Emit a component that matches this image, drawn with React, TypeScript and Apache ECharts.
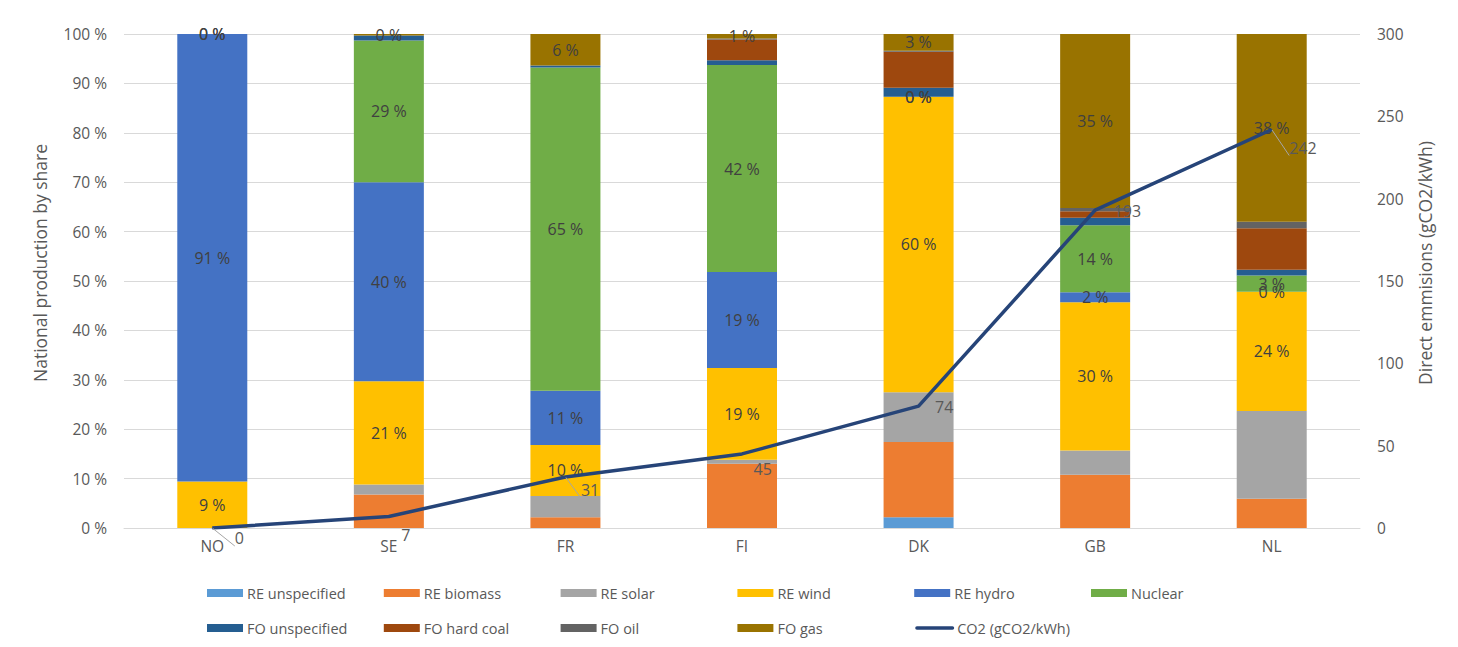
import React, { useEffect, useRef } from "react";
import * as echarts from "echarts";

const countries = ["NO", "SE", "FR", "FI", "DK", "GB", "NL"];

const reUnspecified = [0, 0, 0, 0, 2.2, 0, 0];
const reBiomass = [0, 6.8, 2.2, 13.0, 15.2, 10.8, 5.9];
const reSolar = [0, 2.0, 4.3, 0.8, 10.1, 4.9, 17.8];
const reWind = [9.4, 20.9, 10.3, 18.6, 59.8, 30.0, 24.1];
const reHydro = [90.6, 40.3, 11.0, 19.4, 0, 2.0, 0];
const nuclear = [0, 28.7, 65.4, 41.9, 0, 13.6, 3.3];
const foUnspecified = [0, 1.0, 0.4, 1.0, 1.8, 1.5, 1.2];
const foHardCoal = [0, 0, 0, 4.2, 7.3, 1.3, 8.4];
const foOil = [0, 0, 0, 0.2, 0.2, 0.7, 1.3];
const foGas = [0, 0.3, 6.4, 0.9, 3.4, 35.2, 38.0];

const co2 = [0, 7, 31, 45, 74, 193, 242];

const shareTicks = { min: 0, max: 100, interval: 10 };
const co2Ticks = { min: 0, max: 300, interval: 50 };

// styling (kept apart from data)
const barSeries = [
  { name: "RE unspecified", data: reUnspecified, color: "#5B9BD5", labeled: false },
  { name: "RE biomass", data: reBiomass, color: "#ED7D31", labeled: false },
  { name: "RE solar", data: reSolar, color: "#A5A5A5", labeled: false },
  { name: "RE wind", data: reWind, color: "#FFC000", labeled: true },
  { name: "RE hydro", data: reHydro, color: "#4472C4", labeled: true },
  { name: "Nuclear", data: nuclear, color: "#70AD47", labeled: true },
  { name: "FO unspecified", data: foUnspecified, color: "#255E91", labeled: false },
  { name: "FO hard coal", data: foHardCoal, color: "#9E480E", labeled: false },
  { name: "FO oil", data: foOil, color: "#636363", labeled: false },
  { name: "FO gas", data: foGas, color: "#997300", labeled: true },
];
const co2Name = "CO2 (gCO2/kWh)";
const co2Color = "#264478";
const co2LabelOffsets = [
  [17, 10],
  [7, 19],
  [10, 13],
  [6, 15],
  [11, 1],
  [13, 1],
  [12, 18],
];
const co2LeaderIdx = [0, 2, 6];

const FONT = "'Open Sans', 'Noto Sans', sans-serif";
const TEXT = "#595959";

export default function App() {
  const ref = useRef<HTMLDivElement>(null);

  useEffect(() => {
    document.body.style.margin = "0";
    if (!ref.current) return;
    const chart = echarts.init(ref.current, undefined, { renderer: "svg" });

    const legendItems = [
      ...barSeries.map((s) => ({ name: s.name, color: s.color, isLine: false })),
      { name: co2Name, color: co2Color, isLine: true },
    ];
    const legendGraphics: any[] = [];
    legendItems.forEach((it, i) => {
      const col = i % 6;
      const row = Math.floor(i / 6);
      const x = 207 + col * 176.8;
      const cy = row === 0 ? 593 : 628;
      if (it.isLine) {
        legendGraphics.push({
          type: "rect",
          shape: { x: x + 1, y: cy - 1.75, width: 39, height: 3.5, r: 1.75 },
          style: { fill: it.color },
          silent: true,
        });
      } else {
        legendGraphics.push({
          type: "rect",
          shape: { x, y: cy - 4, width: 36, height: 8 },
          style: { fill: it.color },
          silent: true,
        });
      }
      legendGraphics.push({
        type: "text",
        x: x + (it.isLine ? 43 : 40),
        y: cy,
        style: {
          text: it.name,
          fontFamily: FONT,
          fontSize: 14.5,
          fill: TEXT,
          verticalAlign: "middle",
          align: "left",
        },
        silent: true,
      });
    });

    const series: any[] = barSeries.map((s) => ({
      name: s.name,
      type: "bar",
      stack: "share",
      barWidth: 70,
      data: s.data,
      itemStyle: { color: s.color },
      label: {
        show: s.labeled,
        position: "inside",
        formatter: (p: any) => Math.round(p.value) + " %",
        fontFamily: FONT,
        fontSize: 16,
        color: "#404040",
      },
      emphasis: { disabled: true },
    }));

    series.push({
      name: co2Name,
      type: "line",
      yAxisIndex: 1,
      data: co2.map((v, i) => ({
        value: v,
        label: { offset: co2LabelOffsets[i] },
        labelLine: { show: co2LeaderIdx.includes(i) },
      })),
      symbol: "circle",
      symbolSize: 1,
      itemStyle: { color: co2Color },
      lineStyle: { color: co2Color, width: 3.5 },
      z: 10,
      label: {
        show: true,
        position: "right",
        fontFamily: FONT,
        fontSize: 16,
        color: TEXT,
      },
      labelLine: { show: false, lineStyle: { color: "#A6A6A6", width: 1 } },
      emphasis: { disabled: true },
    });

    chart.setOption({
      animation: false,
      textStyle: { fontFamily: FONT },
      grid: { left: 124, right: 98, top: 34, bottom: 119, containLabel: false },
      graphic: legendGraphics,
      xAxis: {
        type: "category",
        data: countries,
        axisLine: { lineStyle: { color: "#D9D9D9", width: 1 } },
        axisTick: { show: false },
        axisLabel: { fontFamily: FONT, fontSize: 15.5, color: TEXT, margin: 10 },
      },
      yAxis: [
        {
          type: "value",
          min: shareTicks.min,
          max: shareTicks.max,
          interval: shareTicks.interval,
          name: "National production by share",
          nameLocation: "middle",
          nameRotate: 90,
          nameGap: 75,
          nameTextStyle: { fontFamily: FONT, fontSize: 17.5, color: TEXT, padding: [0, 0, 0, 36] },
          axisLabel: { formatter: "{value} %", fontFamily: FONT, fontSize: 15.5, color: TEXT, margin: 17 },
          axisLine: { show: false },
          axisTick: { show: false },
          splitLine: { lineStyle: { color: "#D9D9D9", width: 1 } },
        },
        {
          type: "value",
          position: "right",
          min: co2Ticks.min,
          max: co2Ticks.max,
          interval: co2Ticks.interval,
          name: "Direct emmisions (gCO2/kWh)",
          nameLocation: "middle",
          nameRotate: 90,
          nameGap: 56,
          nameTextStyle: { fontFamily: FONT, fontSize: 17.5, color: TEXT, padding: [0, 0, 0, 36] },
          axisLabel: { fontFamily: FONT, fontSize: 15.5, color: TEXT, margin: 17 },
          axisLine: { show: false },
          axisTick: { show: false },
          splitLine: { show: false },
        },
      ],
      series,
    });

    return () => chart.dispose();
  }, []);

  return <div ref={ref} style={{ width: 1458, height: 647 }} />;
}
